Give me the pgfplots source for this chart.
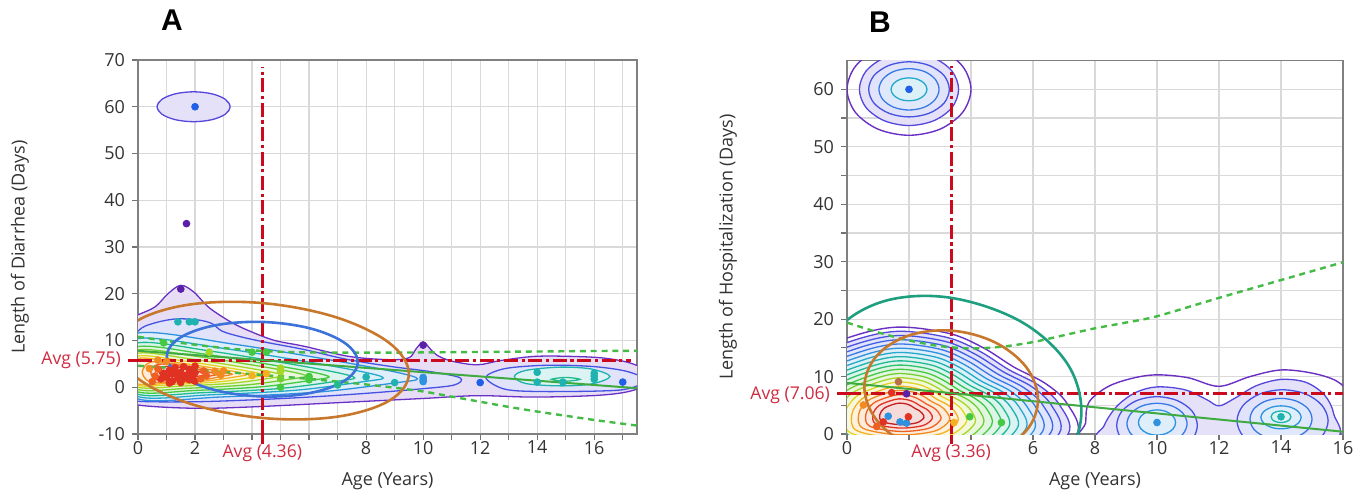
\documentclass[border=0pt]{standalone}
\usepackage{fontspec}
\setmainfont{Open Sans}
\newfontfamily\panelfont{Liberation Sans}
\usepackage{pgfplots}
\pgfplotsset{compat=1.18}

% contour palette (outer -> inner)
\definecolor{cPurple}{HTML}{6A30C4}
\definecolor{cViolet}{HTML}{5546DC}
\definecolor{cBlue}{HTML}{4652E2}
\definecolor{cBlueB}{HTML}{3F62E6}
\definecolor{cBlue2}{HTML}{3A78E6}
\definecolor{cSky}{HTML}{2E92DE}
\definecolor{cCyan}{HTML}{24A8CC}
\definecolor{cTeal}{HTML}{1FB2B0}
\definecolor{cTealG}{HTML}{20BA90}
\definecolor{cGreenA}{HTML}{30C268}
\definecolor{cGreen}{HTML}{44C940}
\definecolor{cLime}{HTML}{72CF30}
\definecolor{cYG}{HTML}{A8D626}
\definecolor{cYellow}{HTML}{E2D424}
\definecolor{cAmber}{HTML}{F4B022}
\definecolor{cOrange}{HTML}{F28A22}
\definecolor{cROrange}{HTML}{EE6022}
\definecolor{cRed}{HTML}{E03222}
\definecolor{cDRed}{HTML}{C41E1E}
\definecolor{ptBlue}{HTML}{2060E8}
\definecolor{ptPurple}{HTML}{5A20A8}
\definecolor{ptBrown}{HTML}{B87048}
\definecolor{avgred}{HTML}{CC0A1E}
\definecolor{avgtext}{HTML}{CF2A40}
\definecolor{ellOrange}{HTML}{C8782C}
\definecolor{ellBlue}{HTML}{3C72DA}
\definecolor{ellTeal}{HTML}{1EA080}
\definecolor{fitGreen}{HTML}{3FAA3F}
\definecolor{ciGreen}{HTML}{44BB44}

\pgfplotsset{
  base/.style={
    scale only axis, clip=true,
    axis line style={draw=black!50, line width=0.7pt},
    tick align=outside, xtick pos=left, ytick pos=left,
    major tick length=3pt, minor tick length=3pt,
    every tick/.style={black!55, line width=0.6pt},
    grid=both,
    major grid style={black!15, line width=0.6pt},
    minor grid style={black!15, line width=0.6pt},
    tick label style={font=\fontsize{9}{10}\selectfont, text=black!80, inner ysep=0.3pt},
    label style={font=\fontsize{9}{10}\selectfont, text=black!80},
    /pgf/number format/assume math mode=true,
    extra tick style={grid=none, major tick length=5pt,
      major tick style={draw=avgred, line width=1.4pt},
      tick label style={text=avgtext, font=\fontsize{8.8}{10}\selectfont}},
  },
  ct/.style={draw=#1, fill=#1!16!white, line width=0.65pt, smooth cycle, tension=0.55},
  co/.style={draw=#1, line width=0.7pt, smooth cycle, tension=0.55},
  pt/.style={only marks, mark=*, mark size=1.7pt, mark options={draw=#1, fill=#1}},
  avgline/.style={avgred, line width=1.4pt, dash pattern=on 7pt off 1.8pt on 1.6pt off 1.8pt},
  ciline/.style={draw=ciGreen, line width=1.2pt, dash pattern=on 3pt off 2.4pt, smooth},
  fitline/.style={draw=fitGreen, line width=1pt},
  ell/.style={draw=#1, line width=1.3pt, smooth cycle, tension=0.6},
}

\begin{document}
\begin{tikzpicture}
\useasboundingbox (0,0) rectangle (684pt,247pt);

\node[font=\panelfont\bfseries\fontsize{15}{16}\selectfont] at (86pt,237pt) {A};
\node[font=\panelfont\bfseries\fontsize{15}{16}\selectfont] at (440pt,236pt) {B};

% ---------------- Panel A ----------------
\begin{axis}[base,
  at={(69pt,30pt)}, anchor=south west,
  width=249.5pt, height=187pt,
  xmin=0, xmax=17.5, ymin=-10, ymax=70,
  xtick={0,2,4,6,8,10,12,14,16},
  xticklabels={0,2,,,8,10,12,14,16},
  minor xtick={1,3,5,7,9,11,13,15,17},
  ytick={-10,0,10,20,30,40,50,60,70},
  yticklabels={-10,0,10,20,30,40,50,60,70},
  extra x ticks={4.36}, extra x tick labels={Avg (4.36)},
  extra y ticks={5.75}, extra y tick labels={Avg (5.75)},
  xlabel={Age (Years)}, ylabel={Length of Diarrhea (Days)},
  xlabel style={at={(axis description cs:0.5,-0.126)}, anchor=center},
  ylabel style={at={(axis description cs:-0.2365,0.5)}, anchor=center},
]
% density contours
\addplot[ct=cPurple] coordinates {(-0.8,6) (-0.5,14.2) (0,15.5) (0.6,17.2) (1.05,20.0) (1.5,21.8) (1.95,20.4) (2.5,17.0) (3.3,13.8) (4.0,11.8) (4.8,10.0) (5.8,8.8) (7.4,6.6) (8.8,5.9) (9.5,6.3) (9.75,8.2) (10.0,9.7) (10.25,8.2) (10.5,6.8) (11.0,5.6) (11.9,4.8) (12.7,5.7) (13.9,6.6) (15.2,6.6) (16.4,6.2) (17.4,4.9) (18.2,2.0) (17.4,-0.6) (16.2,-1.7) (13.9,-2.1) (11.9,-1.8) (10.0,-2.4) (7.0,-3.3) (4.0,-4.2) (2.0,-4.5) (0,-3.8) (-0.8,-2)};
\addplot[ct=cViolet] coordinates {(3.23,60) (3.06,61.6) (2.59,62.77) (1.95,63.2) (1.31,62.77) (0.84,61.6) (0.67,60) (0.84,58.4) (1.31,57.23) (1.95,56.8) (2.59,57.23) (3.06,58.4)};
\addplot[ct=cBlue] coordinates {(-0.8,6) (0,12.0) (0.5,13.6) (1.3,14.6) (2.1,14.4) (2.6,13.6) (2.95,12.0) (3.6,10.8) (4.5,9.6) (5.8,8.1) (7.3,6.0) (8.8,4.5) (10.3,3.3) (11.3,2.0) (11.1,0.5) (10,-0.3) (8,-1.3) (6,-2.1) (4,-2.7) (2,-3.1) (0,-3.0) (-0.8,-2)};
\addplot[ct=cBlue] coordinates {(12.2,2.1) (12.8,3.9) (13.9,4.6) (15.0,4.7) (16.2,4.3) (17.2,3.3) (17.8,1.5) (17.2,-0.3) (16.2,-0.8) (13.9,-0.9) (12.8,-0.3)};
\addplot[ct=cTeal] coordinates {(13.2,2.3) (13.6,3.6) (14.8,4.3) (15.9,3.9) (16.55,2.3) (15.9,0.7) (14.8,0.3) (13.6,0.8)};
\addplot[ct=cTealG] coordinates {(14.5,1.7) (15.0,2.1) (15.5,1.7) (15.0,1.3)};
\addplot[ct=cSky] coordinates {(-0.6,4.55) (0,11.6) (3.43,9.15) (6.86,5.72) (9.02,3.27) (9.8,1.8) (9.02,0.94) (6.37,-1.0) (2.94,-2.07) (0,-2.5)};
\addplot[ct=cCyan] coordinates {(-0.6,4.2) (0,10.4) (3.01,8.3) (6.02,5.36) (7.91,3.26) (8.6,2) (7.91,1.2) (5.59,-0.6) (2.58,-1.6) (0,-2)};
\addplot[ct=cTealG] coordinates {(-0.6,4) (0,9.5) (2.66,7.63) (5.32,5.0) (6.99,3.13) (7.6,2) (6.99,1.3) (4.94,-0.28) (2.28,-1.15) (0,-1.5)};
\addplot[ct=cGreen] coordinates {(-0.6,3.85) (0,8.7) (2.35,7.08) (4.69,4.8) (6.16,3.18) (6.7,2.2) (6.16,1.56) (4.36,0.12) (2.01,-0.68) (0,-1)};
\addplot[ct=cLime] coordinates {(-0.6,3.75) (0,8) (2.07,6.6) (4.13,4.64) (5.43,3.24) (5.9,2.4) (5.43,1.82) (3.84,0.52) (1.77,-0.21) (0,-0.5)};
\addplot[ct=cYG] coordinates {(-0.6,3.65) (0,7.3) (1.79,6.1) (3.57,4.42) (4.69,3.22) (5.1,2.5) (4.69,2.0) (3.32,0.88) (1.53,0.25) (0,0)};
\addplot[ct=cYellow] coordinates {(-0.6,3.55) (0,6.7) (1.54,5.68) (3.08,4.24) (4.05,3.22) (4.4,2.6) (4.05,2.16) (2.86,1.17) (1.32,0.62) (0,0.4)};
\addplot[ct=cAmber] coordinates {(-0.6,3.45) (0,6.2) (1.33,5.33) (2.66,4.1) (3.5,3.23) (3.8,2.7) (3.5,2.3) (2.47,1.4) (1.14,0.9) (0,0.7)};
\addplot[ct=cOrange] coordinates {(0.15,3.3) (0.45,5.4) (1.3,5.0) (2.3,4.0) (3.0,3.2) (3.3,2.8) (3.0,2.4) (2.2,1.5) (1.1,1.1) (0.4,1.2)};
\addplot[ct=cROrange] coordinates {(0.45,3.2) (0.7,4.9) (1.4,4.6) (2.1,3.8) (2.6,3.1) (2.85,2.8) (2.6,2.5) (2.0,1.7) (1.2,1.4) (0.65,1.6)};
\addplot[ct=cRed] coordinates {(0.75,3.1) (0.95,4.4) (1.5,4.2) (2.0,3.6) (2.3,3.0) (2.4,2.8) (2.25,2.5) (1.8,2.0) (1.2,1.8) (0.9,2.1)};
% means
\addplot[avgline] coordinates {(4.36,-10) (4.36,68.5)};
\addplot[avgline] coordinates {(0,5.75) (17.3,5.75)};
% fit and bands
\addplot[ciline] coordinates {(0,10.8) (1,9.9) (2,9.1) (3,8.4) (4,7.9) (5,7.6) (6,7.45) (8,7.4) (10,7.45) (12,7.55) (14,7.65) (16,7.75) (17.5,7.8)};
\addplot[ciline] coordinates {(0,4.6) (1,4.2) (2,3.8) (3,3.3) (4,2.8) (5,2.3) (6,1.8) (7,1.2) (8,0.6) (9,-0.1) (10,-0.9) (11,-2) (12,-3.1) (13,-4.2) (14,-5.2) (15,-6.1) (16,-7.0) (17.5,-8.2)};
\addplot[fitline] coordinates {(0,7.8) (17.5,-0.2)};
% ellipses
\addplot[ell=ellOrange] coordinates {(9.5,2.93) (8.82,9.45) (6.95,14.96) (4.4,17.99) (1.85,17.73) (-0.02,14.25) (-0.7,8.47) (-0.02,1.95) (1.85,-3.56) (4.4,-6.59) (6.95,-6.33) (8.82,-2.84)};
\addplot[ell=ellBlue] coordinates {(7.71,5.36) (7.26,9.43) (6.04,12.59) (4.36,13.97) (2.69,13.23) (1.46,10.54) (1.01,6.64) (1.46,2.57) (2.69,-0.59) (4.36,-1.97) (6.04,-1.23) (7.26,1.46)};
% points
\addplot[pt=cRed] coordinates {(0.8,1.8) (0.9,3.0) (1.0,2.2) (1.1,3.6) (1.2,1.2) (1.2,2.8) (1.3,4.2) (1.4,2.0) (1.5,3.2) (1.5,1.0) (1.6,4.4) (1.7,2.6) (1.8,1.6) (1.8,3.8) (1.9,2.2) (2.0,3.1) (2.0,4.5) (2.0,1.3) (1.1,0.9) (1.3,3.1) (1.6,1.9) (1.9,2.9)};
\addplot[pt=cROrange] coordinates {(0.6,2.4) (0.7,3.9) (2.2,1.8) (2.3,3.5) (0.5,1.2) (2.4,2.5)};
\addplot[pt=cOrange] coordinates {(0.7,5.8) (1.0,5.5) (0.4,4.0) (2.9,2.6) (2.7,3.4) (3.0,3.5)};
\addplot[pt=cAmber] coordinates {(4.0,2.5) (4.5,2.9)};
\addplot[pt=cYG] coordinates {(5.0,4.1) (2.5,7.5) (5.0,3.4)};
\addplot[pt=cLime] coordinates {(5.0,1.8)};
\addplot[pt=cGreen] coordinates {(0.9,9.5) (4.0,7.5) (4.5,7.5) (5.0,0.0) (6.0,2.3) (6.0,1.6)};
\addplot[pt=cTealG] coordinates {(7.0,0.5)};
\addplot[pt=cTeal] coordinates {(8.0,2.2) (9.0,1.0) (14,3.2) (14,1.1) (14.9,1.1) (16,3.0) (16,2.4) (16,1.7) (1.4,14) (1.8,14) (2.0,14)};
\addplot[pt=cSky] coordinates {(10,2.1) (10,1.2) (10,1.6)};
\addplot[pt=ptBlue] coordinates {(12,1.0) (17,1.1) (2.0,60)};
\addplot[pt=ptPurple] coordinates {(1.7,35) (1.5,21) (10,9.0)};
\end{axis}

% ---------------- Panel B ----------------
\begin{axis}[base,
  at={(423.5pt,30pt)}, anchor=south west,
  width=248pt, height=186.7pt,
  xmin=0, xmax=16, ymin=0, ymax=65,
  xtick={0,2,4,6,8,10,12,14,16},
  xticklabels={0,,,6,8,10,12,14,16},
  ytick={0,10,20,30,40,50,60},
  yticklabels={0,10,20,30,40,50,60},
  minor ytick={5,15,25,35,45,55},
  extra x ticks={3.36}, extra x tick labels={Avg (3.36)},
  extra y ticks={7.06}, extra y tick labels={Avg (7.06)},
  extra y tick style={tick label style={yshift=-0.8pt}},
  xlabel={Age (Years)}, ylabel={Length of Hospitalization (Days)},
  xlabel style={at={(axis description cs:0.5,-0.126)}, anchor=center},
  ylabel style={at={(axis description cs:-0.24,0.5)}, anchor=center},
]
% blob at 60
\addplot[co=cPurple] coordinates {(4,60) (3.73,64) (3,66.93) (2,68) (1,66.93) (0.27,64) (0,60) (0.27,56) (1,53.07) (2,52) (3,53.07) (3.73,56)};
\addplot[ct=cViolet] coordinates {(3.6,60) (3.39,63.15) (2.8,65.46) (2,66.3) (1.2,65.46) (0.61,63.15) (0.4,60) (0.61,56.85) (1.2,54.54) (2,53.7) (2.8,54.54) (3.39,56.85)};
\addplot[ct=cBlue] coordinates {(3.3,60) (3.13,62.4) (2.65,64.16) (2,64.8) (1.35,64.16) (0.87,62.4) (0.7,60) (0.87,57.6) (1.35,55.84) (2,55.2) (2.65,55.84) (3.13,57.6)};
\addplot[ct=cBlue2] coordinates {(2.97,60) (2.84,61.8) (2.49,63.12) (2,63.6) (1.51,63.12) (1.16,61.8) (1.03,60) (1.16,58.2) (1.51,56.88) (2,56.4) (2.49,56.88) (2.84,58.2)};
\addplot[ct=cCyan] coordinates {(2.58,60) (2.5,61) (2.29,61.73) (2,62) (1.71,61.73) (1.5,61) (1.42,60) (1.5,59) (1.71,58.27) (2,58) (2.29,58.27) (2.5,59)};
% main blob
\addplot[co=cPurple] coordinates {(1.70,-9.00) (-2.50,-5.00) (-3.00,4.00) (-2.00,12.00) (0.00,16.70) (1.60,18.60) (3.30,17.50) (4.40,15.00) (5.40,11.60) (6.40,8.80) (7.10,5.30) (7.40,-0.20) (5.70,-6.70)};
\addplot[ct=cViolet] coordinates {(1.70,-8.41) (-2.30,-4.60) (-2.77,3.97) (-1.82,11.58) (0.08,16.06) (1.61,17.87) (3.22,16.82) (4.27,14.44) (5.22,11.20) (6.17,8.54) (6.84,5.20) (7.13,-0.03) (5.51,-6.22)};
\addplot[ct=cBlue] coordinates {(1.70,-7.82) (-2.10,-4.20) (-2.55,3.93) (-1.65,11.17) (0.16,15.41) (1.61,17.13) (3.15,16.14) (4.14,13.88) (5.05,10.80) (5.95,8.27) (6.58,5.11) (6.85,0.14) (5.32,-5.74)};
\addplot[ct=cBlueB] coordinates {(1.70,-7.23) (-1.90,-3.81) (-2.32,3.90) (-1.47,10.75) (0.25,14.77) (1.61,16.40) (3.07,15.46) (4.01,13.32) (4.87,10.41) (5.72,8.01) (6.32,5.01) (6.58,0.30) (5.12,-5.26)};
\addplot[ct=cBlue2] coordinates {(1.70,-6.64) (-1.69,-3.41) (-2.10,3.87) (-1.29,10.33) (0.33,14.13) (1.62,15.66) (2.99,14.77) (3.88,12.75) (4.69,10.01) (5.50,7.74) (6.06,4.92) (6.31,0.47) (4.93,-4.78)};
\addplot[ct=cSky] coordinates {(1.70,-6.05) (-1.49,-3.01) (-1.87,3.83) (-1.11,9.91) (0.41,13.48) (1.62,14.93) (2.92,14.09) (3.75,12.19) (4.51,9.61) (5.27,7.48) (5.80,4.82) (6.03,0.64) (4.74,-4.30)};
\addplot[ct=cCyan] coordinates {(1.70,-5.46) (-1.29,-2.61) (-1.65,3.80) (-0.93,9.49) (0.49,12.84) (1.63,14.19) (2.84,13.41) (3.62,11.63) (4.33,9.21) (5.05,7.22) (5.55,4.72) (5.76,0.81) (4.55,-3.82)};
\addplot[ct=cTeal] coordinates {(1.70,-4.87) (-1.09,-2.21) (-1.42,3.77) (-0.76,9.08) (0.57,12.20) (1.63,13.46) (2.76,12.73) (3.49,11.07) (4.16,8.81) (4.82,6.95) (5.29,4.63) (5.49,0.98) (4.36,-3.34)};
\addplot[ct=cTealG] coordinates {(1.70,-4.28) (-0.89,-1.81) (-1.20,3.73) (-0.58,8.66) (0.65,11.55) (1.64,12.73) (2.69,12.05) (3.36,10.51) (3.98,8.41) (4.60,6.69) (5.03,4.53) (5.21,1.14) (4.16,-2.86)};
\addplot[ct=cGreenA] coordinates {(1.70,-3.69) (-0.69,-1.41) (-0.97,3.70) (-0.40,8.24) (0.73,10.91) (1.64,11.99) (2.61,11.37) (3.23,9.95) (3.80,8.01) (4.37,6.42) (4.77,4.44) (4.94,1.31) (3.97,-2.38)};
\addplot[ct=cGreen] coordinates {(1.70,-3.10) (-0.48,-1.02) (-0.74,3.66) (-0.22,7.82) (0.82,10.27) (1.65,11.26) (2.53,10.68) (3.10,9.38) (3.62,7.62) (4.14,6.16) (4.51,4.34) (4.66,1.48) (3.78,-1.90)};
\addplot[ct=cLime] coordinates {(1.70,-2.51) (-0.28,-0.62) (-0.52,3.63) (-0.05,7.41) (0.90,9.63) (1.65,10.52) (2.46,10.00) (2.97,8.82) (3.45,7.22) (3.92,5.90) (4.25,4.24) (4.39,1.65) (3.59,-1.42)};
\addplot[ct=cYG] coordinates {(1.70,-1.92) (-0.08,-0.22) (-0.29,3.60) (0.13,6.99) (0.98,8.98) (1.66,9.79) (2.38,9.32) (2.85,8.26) (3.27,6.82) (3.69,5.63) (3.99,4.15) (4.12,1.82) (3.40,-0.94)};
\addplot[ct=cYellow] coordinates {(1.70,-1.33) (0.12,0.18) (-0.07,3.56) (0.31,6.57) (1.06,8.34) (1.66,9.05) (2.30,8.64) (2.72,7.70) (3.09,6.42) (3.47,5.37) (3.73,4.05) (3.84,1.98) (3.20,-0.46)};
\addplot[ct=cAmber] coordinates {(1.70,-0.73) (0.32,0.58) (0.16,3.53) (0.49,6.15) (1.14,7.70) (1.67,8.32) (2.23,7.96) (2.59,7.14) (2.91,6.02) (3.24,5.10) (3.47,3.96) (3.57,2.15) (3.01,0.02)};
\addplot[ct=cOrange] coordinates {(1.70,-0.14) (0.52,0.98) (0.38,3.50) (0.66,5.74) (1.22,7.05) (1.67,7.58) (2.15,7.28) (2.46,6.58) (2.74,5.62) (3.02,4.84) (3.21,3.86) (3.30,2.32) (2.82,0.50)};
\addplot[ct=cROrange] coordinates {(1.70,0.45) (0.73,1.37) (0.61,3.46) (0.84,5.32) (1.31,6.41) (1.68,6.85) (2.07,6.59) (2.33,6.01) (2.56,5.23) (2.79,4.58) (2.95,3.76) (3.02,2.49) (2.63,0.98)};
\addplot[ct=cRed] coordinates {(1.70,1.04) (0.93,1.77) (0.84,3.43) (1.02,4.90) (1.39,5.77) (1.68,6.12) (1.99,5.91) (2.20,5.45) (2.38,4.83) (2.57,4.31) (2.69,3.67) (2.75,2.66) (2.44,1.46)};
\addplot[ct=cDRed] coordinates {(1.70,1.63) (1.13,2.17) (1.06,3.40) (1.20,4.48) (1.47,5.12) (1.69,5.38) (1.92,5.23) (2.07,4.89) (2.20,4.43) (2.34,4.05) (2.43,3.57) (2.48,2.82) (2.24,1.94)};
% right blobs
\addplot[co=cPurple] coordinates {(7.7,-2) (7.7,2) (7.8,5.5) (8.4,8.2) (9.2,9.7) (10,10.3) (11,9.8) (12,8.3) (13,10) (14,11.15) (15,10.6) (15.8,9.2) (16.3,6.5) (16.6,2) (16.5,-2) (12,-3)};
\addplot[ct=cViolet] coordinates {(8.3,-1) (8.3,1.5) (8.7,4.8) (9.3,7.2) (10,8.2) (10.9,7.7) (11.6,6.0) (12.0,4.9) (12.5,6.2) (13.2,8.4) (14,9.5) (14.8,9.0) (15.4,6.8) (15.7,3.5) (15.65,-1) (12,-1.5)};
\addplot[ct=cBlue] coordinates {(11.3,1.5) (11.13,4) (10.65,5.83) (10,6.5) (9.35,5.83) (8.87,4) (8.7,1.5) (8.87,-1) (9.35,-2.83) (10,-3.5) (10.65,-2.83) (11.13,-1)};
\addplot[ct=cBlue2] coordinates {(10.97,1.8) (10.84,3.58) (10.49,4.87) (10,5.35) (9.51,4.87) (9.16,3.58) (9.03,1.8) (9.16,0.02) (9.51,-1.27) (10,-1.75) (10.49,-1.27) (10.84,0.02)};
\addplot[ct=cSky] coordinates {(10.6,2) (10.52,3.1) (10.3,3.9) (10,4.2) (9.7,3.9) (9.48,3.1) (9.4,2) (9.48,0.9) (9.7,0.1) (10,-0.2) (10.3,0.1) (10.52,0.9)};
\addplot[ct=cBlue] coordinates {(15.52,2.3) (15.32,5.0) (14.79,6.98) (14.05,7.7) (13.32,6.98) (12.78,5.0) (12.58,2.3) (12.78,-0.4) (13.32,-2.38) (14.05,-3.1) (14.79,-2.38) (15.32,-0.4)};
\addplot[ct=cBlue2] coordinates {(15,2.6) (14.87,4.4) (14.5,5.72) (14,6.2) (13.5,5.72) (13.13,4.4) (13,2.6) (13.13,0.8) (13.5,-0.52) (14,-1) (14.5,-0.52) (14.87,0.8)};
\addplot[ct=cSky] coordinates {(14.65,2.9) (14.56,3.9) (14.33,4.63) (14,4.9) (13.68,4.63) (13.44,3.9) (13.35,2.9) (13.44,1.9) (13.68,1.17) (14,0.9) (14.33,1.17) (14.56,1.9)};
\addplot[ct=cTeal] coordinates {(14.32,3) (14.28,3.5) (14.16,3.87) (14,4) (13.84,3.87) (13.72,3.5) (13.68,3) (13.72,2.5) (13.84,2.13) (14,2) (14.16,2.13) (14.28,2.5)};
% means
\addplot[avgline] coordinates {(3.36,0) (3.36,64)};
\addplot[avgline] coordinates {(0,7.06) (16,7.06)};
% fit and band
\addplot[ciline] coordinates {(0,19.4) (1,17.7) (2,16.3) (3,15.3) (4,14.9) (5,15.2) (6,16.0) (7,17.2) (8,18.4) (9,19.4) (10,20.5) (12,23.7) (14,26.8) (16,29.9)};
\addplot[fitline] coordinates {(0,8.9) (16,0.4)};
% ellipses
\addplot[ell=ellTeal] coordinates {(7.56,3.57) (7.1,12.3) (5.6,19.6) (3.36,23.7) (1.26,23.22) (-0.28,18.4) (-0.84,10.55) (-0.28,1.76) (1.26,-5.6) (3.36,-9.58) (5.46,-9.1) (7.0,-4.28)};
\addplot[ell=ellOrange] coordinates {(6.16,5.96) (5.79,11.58) (4.76,15.99) (3.36,18.0) (1.96,17.09) (0.94,13.49) (0.56,8.16) (0.94,2.54) (1.96,-1.87) (3.36,-3.89) (4.76,-2.97) (5.79,0.63)};
% points
\addplot[pt=cSky] coordinates {(1.33,3.1) (1.71,2.1) (1.92,1.9) (10,2)};
\addplot[pt=cRed] coordinates {(1.98,3.0) (1.17,2.1) (1.44,7.2)};
\addplot[pt=ptPurple] coordinates {(1.92,7.0)};
\addplot[pt=ptBrown] coordinates {(1.66,9.1)};
\addplot[pt=cOrange] coordinates {(0.53,5.05)};
\addplot[pt=cROrange] coordinates {(0.96,1.3)};
\addplot[pt=cAmber] coordinates {(3.45,2.0)};
\addplot[pt=cGreen] coordinates {(3.96,3.0) (4.98,2.0)};
\addplot[pt=ptBlue] coordinates {(2,60)};
\addplot[pt=cTeal] coordinates {(14,3)};
\end{axis}
\end{tikzpicture}
\end{document}
